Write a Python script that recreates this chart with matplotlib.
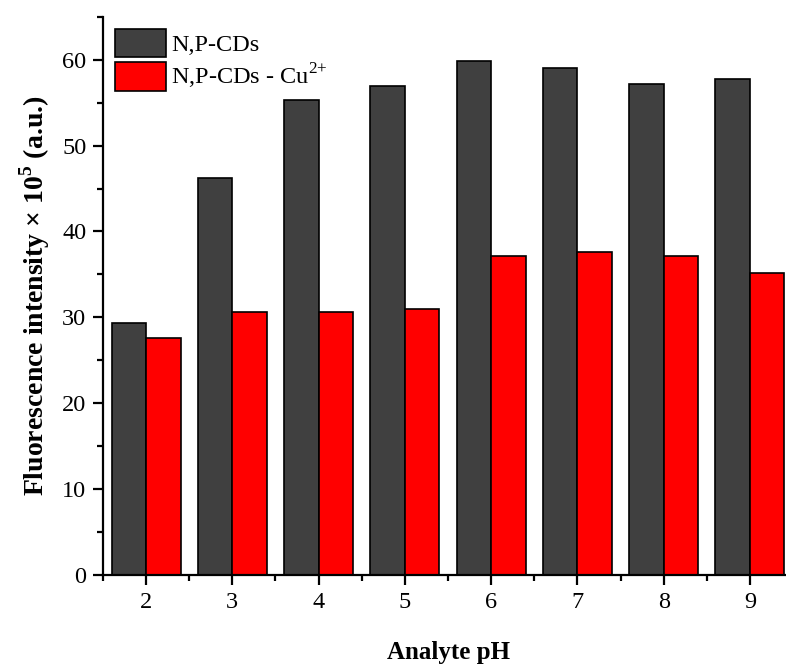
import numpy as np
import matplotlib
matplotlib.use('Agg')
import matplotlib.pyplot as plt
from matplotlib.ticker import MultipleLocator

plt.rcParams['font.family'] = 'Liberation Serif'
plt.rcParams['mathtext.fontset'] = 'custom'
plt.rcParams['mathtext.rm'] = 'Liberation Serif'
plt.rcParams['mathtext.bf'] = 'Liberation Serif:bold'

# data
ph = [2, 3, 4, 5, 6, 7, 8, 9]
cds = [29.3, 46.2, 55.3, 56.9, 59.9, 59.0, 57.2, 57.7]
cds_cu = [27.6, 30.6, 30.6, 31.0, 37.1, 37.6, 37.1, 35.2]

fig = plt.figure(figsize=(7.86, 6.68), dpi=100)
ax = fig.add_axes([0.131, 0.139, 0.878, 0.836])

x = np.array(ph)
w = 0.4
ax.bar(x - w/2, cds, w, color='#404040', edgecolor='black', linewidth=1.2, label='N,P-CDs')
ax.bar(x + w/2, cds_cu, w, color='#ff0000', edgecolor='black', linewidth=1.2,
       label=r'N,P-CDs - Cu$^{\mathrm{2{+}}}$')

ax.set_xlim(1.5, 9.5)
ax.set_ylim(0, 65)
ax.set_xticks(ph)
ax.set_xticks(np.arange(1.5, 9.6, 1), minor=True)
ax.yaxis.set_major_locator(MultipleLocator(10))
ax.yaxis.set_minor_locator(MultipleLocator(5))

for s in ['top', 'right']:
    ax.spines[s].set_visible(False)
for s in ['left', 'bottom']:
    ax.spines[s].set_linewidth(1.6)

ax.tick_params(which='major', direction='out', length=7, width=1.6, labelsize=17.5, pad=5)
ax.tick_params(which='minor', direction='out', length=4, width=1.6)

ax.set_xlabel('Analyte pH', fontsize=18, fontweight='bold', labelpad=20)
ax.set_ylabel(r'Fluorescence intensity × 10$^{\mathbf{5}}$ (a.u.)', fontsize=20,
              fontweight='bold', labelpad=7)

ax.legend(loc='upper left', frameon=False, fontsize=17.5, handlelength=2.1, handleheight=1.4,
          handletextpad=0.2, borderaxespad=0.2, labelspacing=0.2, borderpad=0.3)

fig.savefig('out.png', dpi=100)
